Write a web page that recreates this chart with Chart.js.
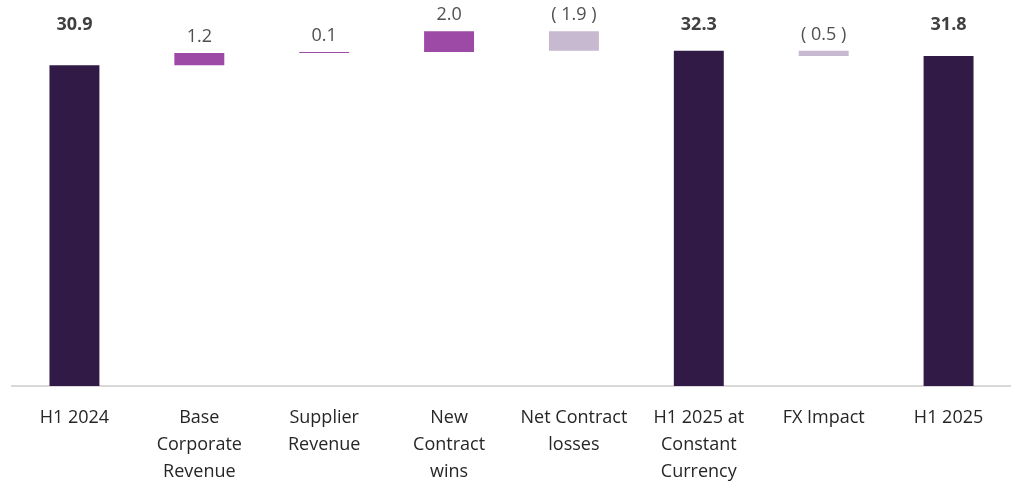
<!DOCTYPE html>
<html>
<head>
<meta charset="utf-8">
<script src="https://cdn.jsdelivr.net/npm/chart.js@4"></script>
<style>
  body { margin: 0; background: #fff; }
  #wrap { width: 1011px; height: 483px; position: relative; }
</style>
</head>
<body>
<div id="wrap"><canvas id="myChart"></canvas></div>
<script>
const categories = [
  ["H1 2024"],
  ["Base", "Corporate", "Revenue"],
  ["Supplier", "Revenue"],
  ["New", "Contract", "wins"],
  ["Net Contract", "losses"],
  ["H1 2025 at", "Constant", "Currency"],
  ["FX Impact"],
  ["H1 2025"]
];
const values = [30.9, 1.2, 0.1, 2.0, -1.9, 32.3, -0.5, 31.8];
const kinds = ["total", "up", "up", "up", "down", "total", "down", "total"];

const colours = { total: "#311a45", up: "#9c4aa6", down: "#c7b9cf" };

// build floating ranges for the waterfall
let running = 0;
const ranges = values.map(function (v, i) {
  if (kinds[i] === "total") {
    running = v;
    return [0, v];
  }
  const start = running;
  running = running + v;
  return [start, running];
});

const fmt = function (v, kind) {
  if (kind === "down") return "( " + Math.abs(v).toFixed(1) + " )";
  return v.toFixed(1);
};

const labelPlugin = {
  id: "valueLabels",
  afterDatasetsDraw(chart) {
    const ctx = chart.ctx;
    const meta = chart.getDatasetMeta(0);
    const yScale = chart.scales.y;
    ctx.save();
    ctx.textAlign = "center";
    ctx.textBaseline = "middle";
    meta.data.forEach(function (bar, i) {
      const top = Math.min(bar.y, bar.base);
      let y;
      if (kinds[i] === "total") {
        ctx.font = "bold 18px 'Open Sans', sans-serif";
        ctx.fillStyle = "#404040";
        y = yScale.getPixelForValue(34.8);
      } else {
        ctx.font = "18px 'Open Sans', sans-serif";
        ctx.fillStyle = "#505050";
        y = top - 16;
      }
      ctx.fillText(fmt(values[i], kinds[i]), bar.x, y);
    });
    ctx.restore();
  }
};

const data = {
  labels: categories,
  datasets: [
    {
      label: "Revenue",
      data: ranges,
      backgroundColor: kinds.map(k => colours[k]),
      borderWidth: 0,
      borderSkipped: false,
      barPercentage: 0.4,
      categoryPercentage: 1.0,
    }
  ],
};

const config = {
  type: "bar",
  data: data,
  options: {
    responsive: true,
    maintainAspectRatio: false,
    animation: false,
    layout: { padding: { left: 12, right: 0, top: 0, bottom: -20 } },
    plugins: {
      legend: { display: false },
      tooltip: { enabled: false },
    },
    scales: {
      x: {
        grid: { display: false, drawTicks: false },
        border: { display: true, color: "#d9d9d9", width: 2 },
        ticks: {
          color: "#262626",
          padding: 18,
          maxRotation: 0,
          autoSkip: false,
          font: { family: "'Open Sans', sans-serif", size: 18, lineHeight: "27px" },
        },
      },
      y: {
        display: false,
        min: 0,
        max: 37.2,
      },
    },
  },
  plugins: [labelPlugin],
};

const myChart = new Chart(document.getElementById("myChart"), config);
</script>
</body>
</html>
